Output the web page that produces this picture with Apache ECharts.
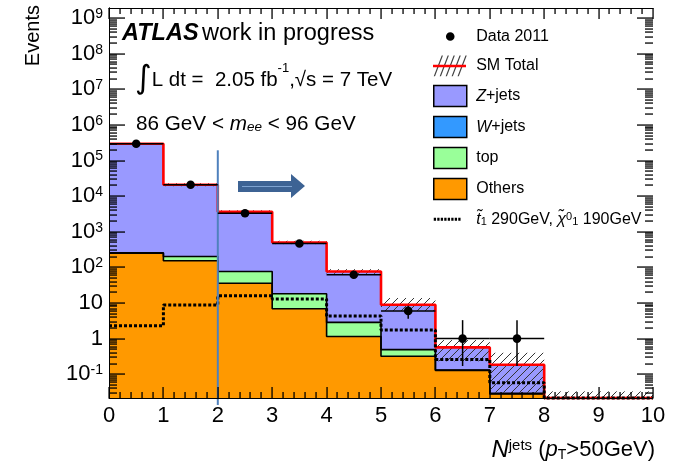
<!DOCTYPE html>
<html><head><meta charset="utf-8">
<script src="https://cdn.jsdelivr.net/npm/echarts@6/dist/echarts.min.js"></script>
<style>html,body{margin:0;padding:0;background:#fff}#c{width:677px;height:469px}</style>
</head><body><div id="c"></div>
<script>
// ---------------- data ----------------
const binEdges = [0, 1, 2, 3, 4, 5, 6, 7, 8, 9, 10];
const others   = [250, 154, 36, 6.9, 1.15, 0.32, 0.128, 0.028, 0, 0];
const topq     = [5, 47, 40, 11, 1.65, 0.17, 0.003, 0.001, 0, 0];
const wjets    = [2, 2, 1, 0.3, 0.05, 0, 0, 0, 0, 0];
const zjets    = [295700, 20700, 3570, 482, 74, 8.45, 0.435, 0.156, 0, 0];
const smUncLow  = [285000, 19000, 3300, 450, 66, 6.0, 0.23, 0.03, 0, 0];
const smUncHigh = [307000, 23000, 4000, 560, 89, 13.8, 0.91, 0.40, 0.033, 0.033];
const signal   = [2.3, 8.8, 16, 13, 4.3, 1.75, 0.26, 0.058, 0, 0];
const dataX    = [0.5, 1.5, 2.5, 3.5, 4.5, 5.5, 6.5, 7.5];
const dataY    = [295000, 21000, 3300, 470, 62, 6, 1, 1];
const dataLow  = [294500, 20855, 3243, 448, 54, 3.6, 0.17, 0.17];
const dataHigh = [295500, 21145, 3357, 492, 70, 8.4, 3.3, 3.3];
const yMajorTicks = [0.1, 1, 10, 100, 1e3, 1e4, 1e5, 1e6, 1e7, 1e8, 1e9];
const xTickLabels = ['0','1','2','3','4','5','6','7','8','9','10'];
const cutX = 2, cutTop = 1.94e5, cutBottom = 0.0137;
const yMin = 0.0215, yMax = 1.92e9;

// ---------------- helpers ----------------
const FF = '"Liberation Sans", Arial, Helvetica, sans-serif';
const TICK = '#000';
const nb = binEdges.length - 1;
const lvlOthers = others.slice();
const lvlTop = others.map((v, i) => v + topq[i] + wjets[i]);
const lvlOthersTop = others.map((v, i) => v + topq[i]);
const lvlTotal = lvlTop.map((v, i) => v + zjets[i]);

// tick marks of the log scale: majors (10^n) and minors (2..9 x 10^n)
const yTickVals = yMajorTicks.map(v => [v, 1]);
for (let e = -2; e <= 9; e++) for (let k = 2; k <= 9; k++) {
  const v = k * Math.pow(10, e);
  if (v > yMin && v < yMax) yTickVals.push([v, 0]);
}

function fillSeries(name, lows, highs, color) {
  const data = [];
  for (let i = 0; i < nb; i++) {
    const lo = Math.max(lows[i], yMin), hi = highs[i];
    if (hi > lo) data.push([binEdges[i], binEdges[i + 1], lo, hi]);
  }
  return {
    type: 'custom', name, z: 2, clip: true, silent: true, animation: false,
    itemStyle: {color},
    encode: {x: [0, 1], y: [2, 3]},
    data,
    renderItem(params, api) {
      const p0 = api.coord([api.value(0), api.value(3)]);
      const p1 = api.coord([api.value(1), api.value(2)]);
      const x0 = Math.round(p0[0]), x1 = Math.round(p1[0]);
      const y0 = Math.round(p0[1]), y1 = Math.round(p1[1]);
      return {type: 'rect', shape: {x: x0, y: y0, width: x1 - x0, height: y1 - y0},
              style: {fill: color, stroke: null}};
    }
  };
}

function stepLine(name, vals, color, width, type, z) {
  const pts = vals.map((v, i) => [binEdges[i], Math.max(v, yMin)]);
  pts.push([binEdges[nb], Math.max(vals[nb - 1], yMin)]);
  return {type: 'line', name, step: 'end', data: pts, symbol: 'none', showSymbol: false, clip: false,
          silent: true, animation: false, z, lineStyle: {color, width, type}};
}

const hatchData = [];
for (let i = 0; i < nb; i++) hatchData.push([binEdges[i], binEdges[i + 1], Math.max(smUncLow[i], yMin), smUncHigh[i]]);

const errData = dataX.map((x, i) => [x, dataY[i], dataLow[i], dataHigh[i]]);

// legend icons
const corners = 'M0,0h0.01v0.01h-0.01Z M33,21h-0.01v-0.01h0.01Z ';
const dotIcon = 'path://' + corners + 'M12.2,10.5a4.3,4.3 0 1,0 8.6,0a4.3,4.3 0 1,0 -8.6,0Z';
let hp = corners;
[0, 6, 12, 18, 24].forEach(x0 => { hp += 'M' + x0 + ',21 L' + (x0 + 1.3) + ',21 L' + (x0 + 9.3) + ',0 L' + (x0 + 8) + ',0 Z '; });
const hatchIcon = 'path://' + hp;
const redIcon = 'path://' + corners + 'M0,9.3 L33,9.3 L33,11.7 L0,11.7 Z';
let dp = corners;
for (let k = 0; k < 8; k++) { const x = k * 3.5; dp += 'M' + x + ',9 L' + (x + 2.3) + ',9 L' + (x + 2.3) + ',12 L' + x + ',12 Z '; }
const dotsIcon = 'path://' + dp;

const legendLabels = {
  'Data 2011': 'Data 2011',
  'SM Total': 'SM Total',
  'Z+jets': '{i|Z}+jets',
  'W+jets': '{i|W}+jets',
  'top': 'top',
  'Others': 'Others',
  'stop': '{i|t\u0303}{sub|1} 290GeV, {i|\u03C7\u0303}{sup|0}{sub|1} 190GeV'
};
const legendRich = {
  i: {fontStyle: 'italic', fontSize: 16, fontFamily: FF},
  sub: {fontSize: 11, verticalAlign: 'bottom', lineHeight: 11, fontFamily: FF},
  sup: {fontSize: 11, verticalAlign: 'top', lineHeight: 11, fontFamily: FF}
};

function yAx(pos, showLabel) {
  return {
    type: 'log', logBase: 10, min: yMin, max: yMax, position: pos, z: 10,
    axisLine: {show: true, lineStyle: {color: '#000', width: 1}},
    axisTick: {show: false},
    axisLabel: showLabel ? {
      show: true, customValues: yMajorTicks, margin: 6, color: '#000', fontFamily: FF, fontSize: 22,
      formatter: v => {
        const e = Math.round(Math.log10(v));
        if (e === 0) return '1';
        if (e === 1) return '10';
        return '{b|10}{s|' + e + '}';
      },
      rich: {b: {fontSize: 22, fontFamily: FF, color: '#000'},
             s: {fontSize: 14, fontFamily: FF, color: '#000', verticalAlign: 'top', lineHeight: 14}}
    } : {show: false},
    splitLine: {show: false}, minorTick: {show: false}, minorSplitLine: {show: false}
  };
}

function xAx(pos, showLabel) {
  const ax = {
    type: 'value', min: 0, max: 10, interval: 1, position: pos, z: 10,
    axisLine: {show: true, onZero: false, lineStyle: {color: '#000', width: 1}},
    axisTick: {show: false},
    minorTick: {show: false},
    splitLine: {show: false},
    axisLabel: showLabel ? {show: true, margin: 7, color: '#000', fontFamily: FF, fontSize: 22,
                            formatter: v => xTickLabels[Math.round(v)]} : {show: false}
  };
  if (showLabel) {
    ax.name = '{n|N}{sup|jets}{t| (}{p|p}{sub|T}{t|>50GeV)}';
    ax.nameLocation = 'end';
    ax.nameGap = 2;
    ax.nameTextStyle = {
      align: 'right', verticalAlign: 'top', padding: [40, 0, 0, 0], color: '#000', fontFamily: FF, fontSize: 22,
      rich: {
        n: {fontStyle: 'italic', fontSize: 24, fontFamily: FF},
        sup: {fontSize: 15, fontFamily: FF, verticalAlign: 'top', lineHeight: 15},
        t: {fontSize: 22, fontFamily: FF},
        p: {fontStyle: 'italic', fontSize: 22, fontFamily: FF},
        sub: {fontSize: 14, fontFamily: FF, verticalAlign: 'bottom', lineHeight: 14}
      }
    };
  }
  return ax;
}

const textGraphics = [
  {type: 'text', x: 33, y: 5, rotation: Math.PI / 2, z: 20,
   style: {text: 'Events', fill: '#000', font: '20px ' + FF, align: 'right', verticalAlign: 'middle'}},
  {type: 'text', x: 122, y: 34, z: 20,
   style: {text: '{a|ATLAS} {b|work in progress}', fill: '#000', align: 'left', verticalAlign: 'middle',
           rich: {a: {fontWeight: 'bold', fontStyle: 'italic', fontSize: 23.5, fontFamily: FF},
                  b: {fontSize: 23.5, fontFamily: FF}}}},
  {type: 'text', x: 135, y: 80, z: 20,
   style: {text: '{int|\u222B}{t|L dt =  2.05 fb}{sup|-1}{t|,\u221As = 7 TeV}', fill: '#000', align: 'left', verticalAlign: 'middle',
           rich: {int: {fontSize: 32, fontFamily: '"DejaVu Sans", ' + FF, lineHeight: 36},
                  t: {fontSize: 20.5, fontFamily: FF},
                  sup: {fontSize: 13, fontFamily: FF, verticalAlign: 'top', lineHeight: 24}}}},
  {type: 'text', x: 136, y: 124, z: 20,
   style: {text: '{t|86 GeV < }{m|m}{sub|ee}{t| < 96 GeV}', fill: '#000', align: 'left', verticalAlign: 'middle',
           rich: {t: {fontSize: 20.7, fontFamily: FF},
                  m: {fontSize: 20.7, fontStyle: 'italic', fontFamily: FF},
                  sub: {fontSize: 13.5, fontStyle: 'italic', fontFamily: FF, verticalAlign: 'bottom', lineHeight: 12}}}},
  {type: 'polygon', z: 20,
   shape: {points: [[238, 181], [291, 181], [291, 174], [305, 186], [291, 198], [291, 192], [238, 192]]},
   style: {fill: '#3d6394', stroke: null}},
  {type: 'line', z: 21, shape: {x1: 242, y1: 186.5, x2: 292, y2: 186.5}, style: {stroke: '#7ea3d1', lineWidth: 1}}
];

const chart = echarts.init(document.getElementById('c'), null, {renderer: 'canvas'});
const option = {
  animation: false,
  backgroundColor: '#fff',
  grid: {left: 109, right: 24, top: 8, bottom: 71, containLabel: false},
  xAxis: [xAx('bottom', true), xAx('top', false)],
  yAxis: [yAx('left', true), yAx('right', false)],
  legend: [
    {
      orient: 'vertical', left: 433, top: 26, padding: 0, itemWidth: 33, itemHeight: 21, itemGap: 8.5,
      selectedMode: false, symbolKeepAspect: true,
      textStyle: {fontSize: 16, fontFamily: FF, color: '#000', rich: legendRich},
      formatter: name => ' ' + legendLabels[name],
      data: [
        {name: 'Data 2011', icon: dotIcon, itemStyle: {color: '#000', borderWidth: 0}},
        {name: 'SM Total', icon: hatchIcon, itemStyle: {color: '#444', borderWidth: 0}},
        {name: 'Z+jets', icon: 'rect', itemStyle: {color: '#9999ff', borderColor: '#000', borderWidth: 1.5}},
        {name: 'W+jets', icon: 'rect', itemStyle: {color: '#3399ff', borderColor: '#000', borderWidth: 1.5}},
        {name: 'top', icon: 'rect', itemStyle: {color: '#99ff99', borderColor: '#000', borderWidth: 1.5}},
        {name: 'Others', icon: 'rect', itemStyle: {color: '#ff9900', borderColor: '#000', borderWidth: 1.5}},
        {name: 'stop', icon: dotsIcon, itemStyle: {color: '#000', borderWidth: 0}}
      ]
    },
    {
      orient: 'vertical', left: 433, top: 26 + 29.5, padding: 0, itemWidth: 33, itemHeight: 21,
      selectedMode: false, symbolKeepAspect: true, z: 6,
      textStyle: {fontSize: 16, fontFamily: FF, color: 'rgba(0,0,0,0)'},
      formatter: name => ' ' + name,
      data: [{name: 'SM Total', icon: redIcon, itemStyle: {color: '#ff0000', borderWidth: 0}}]
    }
  ],
  series: [
    fillSeries('Others', binEdges.map(() => yMin), lvlOthers, '#ff9900'),
    fillSeries('top', lvlOthers, lvlOthersTop, '#99ff99'),
    fillSeries('W+jets', lvlOthersTop, lvlTop, '#3399ff'),
    fillSeries('Z+jets', lvlTop, lvlTotal, '#9999ff'),
    stepLine('outline others', lvlOthers, '#000', 1.6, 'solid', 3),
    stepLine('outline top', lvlTop, '#000', 1.6, 'solid', 3),
    {
      type: 'custom', name: 'SM uncertainty', z: 4, clip: true, silent: true, animation: false,
      encode: {x: [0, 1], y: [2, 3]}, data: hatchData,
      renderItem(params, api) {
        const p0 = api.coord([api.value(0), api.value(3)]);
        const p1 = api.coord([api.value(1), api.value(2)]);
        const x0 = p0[0], y0 = p0[1], x1 = p1[0], y1 = p1[1];
        const s = 8, children = [];
        for (let c = Math.ceil((x0 + y0) / s) * s; c <= x1 + y1; c += s) {
          const xa = Math.max(x0, c - y1), xb = Math.min(x1, c - y0);
          if (xb > xa) children.push({type: 'line', shape: {x1: xa, y1: c - xa, x2: xb, y2: c - xb},
                                      style: {stroke: '#333', lineWidth: 1}});
        }
        return {type: 'group', children};
      }
    },
    stepLine('SM Total', lvlTotal, '#ff0000', 2.6, 'solid', 5),
    stepLine('stop', signal, '#000', 3, [3, 2], 6),
    {type: 'line', name: 'cut', data: [[cutX, cutTop], [cutX, cutBottom]], symbol: 'none', clip: false, silent: true,
     z: 7, lineStyle: {color: '#4f81bd', width: 2}},
    {
      type: 'custom', name: 'Data 2011', z: 8, clip: false, silent: true, animation: false,
      itemStyle: {color: '#000'},
      encode: {x: 0, y: 1}, data: errData,
      renderItem(params, api) {
        const x = api.value(0), y = api.value(1);
        const c = api.coord([x, y]);
        const l = api.coord([x - 0.5, y]), r = api.coord([x + 0.5, y]);
        const lo = api.coord([x, Math.max(api.value(2), yMin)]), hi = api.coord([x, api.value(3)]);
        return {type: 'group', children: [
          {type: 'line', shape: {x1: l[0], y1: c[1], x2: r[0], y2: c[1]}, style: {stroke: '#000', lineWidth: 1.5}},
          {type: 'line', shape: {x1: c[0], y1: lo[1], x2: c[0], y2: hi[1]}, style: {stroke: '#000', lineWidth: 1.5}},
          {type: 'circle', shape: {cx: c[0], cy: c[1], r: 4.3}, style: {fill: '#000'}}
        ]};
      }
    }
  ]
};
chart.setOption(option);

// frame tick marks, positioned through the chart's own scales; drawn as filled thin rects
const finder = {xAxisIndex: 0, yAxisIndex: 0};
const tickEls = [];
function trect(x, y, w, h) {
  tickEls.push({type: 'rect', silent: true, z: 30, shape: {x, y, width: w, height: h}, style: {fill: TICK, stroke: null}});
}
yTickVals.forEach(t => {
  const len = t[1] ? 16 : 8;
  const l = chart.convertToPixel(finder, [0, t[0]]);
  const r = chart.convertToPixel(finder, [10, t[0]]);
  const yy = Math.round(l[1]);
  trect(Math.round(l[0]), yy - 0.6, len, 1.3);
  trect(Math.round(r[0]) - len, yy - 0.6, len, 1.3);
});
for (let k = 0; k <= 50; k++) {
  const xv = k / 5;
  const len = (k % 5 === 0) ? 11 : 6;
  const b = chart.convertToPixel(finder, [xv, yMin]);
  const t = chart.convertToPixel(finder, [xv, yMax]);
  const xx = Math.round(b[0]);
  trect(xx - 0.6, Math.round(b[1]) - len, 1.3, len);
  trect(xx - 0.6, Math.round(t[1]), 1.3, len);
}
chart.setOption({graphic: textGraphics.concat(tickEls)});
</script>
</body></html>
